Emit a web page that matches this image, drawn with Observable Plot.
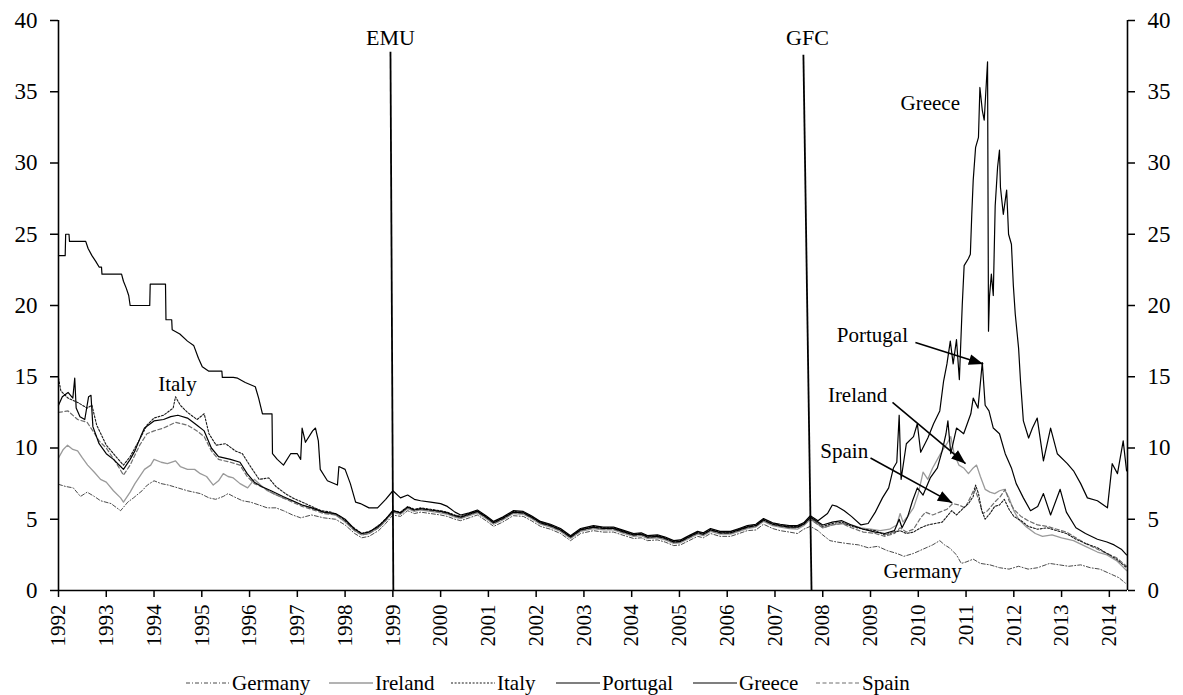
<!DOCTYPE html>
<html>
<head>
<meta charset="utf-8">
<script src="https://cdn.jsdelivr.net/npm/d3@7"></script>
<script src="https://cdn.jsdelivr.net/npm/@observablehq/plot@0.6"></script>
<style>
  html, body { margin: 0; padding: 0; background: #fff; }
  #wrap { position: relative; width: 1183px; height: 695px; overflow: hidden; font-family: "Liberation Serif", "Times New Roman", serif; }
  #chart svg, #chart svg text { font-family: "Liberation Serif", "Times New Roman", serif !important; }
  #legend { position: absolute; left: 0; top: 671px; width: 1183px; height: 24px; }
  .item { position: absolute; top: 0; height: 24px; display: flex; align-items: center; font-size: 21px; color: #000; white-space: nowrap; font-family: "Liberation Serif", "Times New Roman", serif; }
  .item svg { margin-right: 2px; }
</style>
</head>
<body>
<div id="wrap"><div id="chart"></div><div id="legend"></div></div>
<script>
// ---------------- data (decimal year, yield %) ----------------
const yearTicks = [1992,1993,1994,1995,1996,1997,1998,1999,2000,2001,2002,2003,2004,2005,2006,2007,2008,2009,2010,2011,2012,2013,2014];
const yTicks = [0,5,10,15,20,25,30,35,40];
const seriesNames = ["Germany","Ireland","Italy","Portugal","Greece","Spain"];

const germany = [[1992.00,7.45],[1992.15,7.3],[1992.31,7.2],[1992.46,6.6],[1992.6,6.9],[1992.75,6.6],[1992.88,6.3],[1993.1,6.1],[1993.3,5.6],[1993.45,6.2],[1993.57,6.5],[1993.75,7.0],[1993.86,7.4],[1994.0,7.7],[1994.15,7.5],[1994.3,7.4],[1994.5,7.2],[1994.7,7.0],[1994.97,6.8],[1995.15,6.5],[1995.29,6.4],[1995.45,6.6],[1995.55,6.8],[1995.66,6.6],[1995.85,6.3],[1996.02,6.2],[1996.2,6.0],[1996.37,5.8],[1996.55,5.8],[1996.71,5.6],[1996.9,5.3],[1997.07,5.1],[1997.3,5.3],[1997.55,5.1],[1997.8,5.0],[1998.0,4.6],[1998.2,4.0],[1998.35,3.7],[1998.5,3.8],[1998.7,4.2],[1998.85,4.7],[1999.0,5.3],
[1999.16,5.2],[1999.31,5.6],[1999.45,5.4],[1999.58,5.5],[1999.79,5.4],[2000.0,5.3],[2000.14,5.2],[2000.3,5.0],[2000.42,4.9],[2000.6,5.1],[2000.77,5.3],[2000.95,4.9],[2001.11,4.5],[2001.3,4.8],[2001.52,5.25],[2001.73,5.2],[2001.9,4.9],[2002.09,4.5],[2002.3,4.3],[2002.51,4.0],[2002.72,3.5],[2002.93,4.0],[2003.2,4.2],[2003.4,4.1],[2003.62,4.1],[2003.8,3.9],[2004.04,3.65],[2004.2,3.7],[2004.33,3.5],[2004.54,3.55],[2004.7,3.4],[2004.88,3.15],[2005.02,3.2],[2005.2,3.5],[2005.38,3.8],[2005.5,3.7],[2005.65,4.0],[2005.85,3.8],[2006.07,3.8],[2006.25,4.0],[2006.42,4.2],[2006.6,4.25],[2006.76,4.65],[2006.95,4.35],[2007.11,4.2],[2007.3,4.1],[2007.47,4.0],[2007.6,4.3],[2007.74,4.5],
[2007.9,4.2],[2008.0,3.9],[2008.15,3.5],[2008.3,3.4],[2008.5,3.3],[2008.75,3.2],[2008.95,3.0],[2009.15,3.1],[2009.35,2.8],[2009.55,2.6],[2009.7,2.4],[2009.9,2.6],[2010.1,2.9],[2010.3,3.2],[2010.45,3.5],[2010.55,3.2],[2010.65,3.0],[2010.8,2.5],[2010.9,1.9],[2011.0,2.0],[2011.15,2.2],[2011.3,1.9],[2011.5,1.8],[2011.7,1.6],[2011.9,1.5],[2012.1,1.7],[2012.3,1.5],[2012.5,1.6],[2012.75,1.9],[2012.95,1.8],[2013.15,1.7],[2013.4,1.8],[2013.6,1.6],[2013.8,1.5],[2014.0,1.2],[2014.2,0.9],[2014.36,0.45]];

const ireland = [[1992.0,9.3],[1992.1,9.9],[1992.19,10.2],[1992.3,9.9],[1992.4,9.8],[1992.5,9.3],[1992.61,8.8],[1992.75,8.3],[1992.88,7.8],[1993.0,7.6],[1993.15,7.0],[1993.3,6.5],[1993.36,6.2],[1993.5,6.9],[1993.6,7.5],[1993.8,8.5],[1993.93,8.8],[1994.0,9.2],[1994.15,9.0],[1994.28,8.9],[1994.45,9.1],[1994.55,8.7],[1994.7,8.5],[1994.85,8.5],[1994.97,8.2],[1995.1,8.0],[1995.24,7.4],[1995.35,7.7],[1995.45,8.2],[1995.55,8.0],[1995.66,7.9],[1995.8,7.5],[1995.96,7.2],[1996.1,7.8],[1996.23,7.4],[1996.37,7.0],[1996.5,6.8],[1996.7,6.5],[1996.9,6.3],[1997.1,6.0],[1997.3,5.8],[1997.55,5.5],[1997.8,5.3],[1998.0,4.8],[1998.2,4.2],[1998.35,3.9],[1998.5,4.0],[1998.7,4.4],[1998.85,4.9],[1999.0,5.5],
[1999.16,5.35],[1999.31,5.75],[1999.45,5.55],[1999.58,5.65],[1999.79,5.55],[2000.0,5.45],[2000.14,5.35],[2000.3,5.15],[2000.42,5.05],[2000.6,5.25],[2000.77,5.45],[2000.95,5.05],[2001.11,4.65],[2001.3,4.95],[2001.52,5.4],[2001.73,5.35],[2001.9,5.05],[2002.09,4.65],[2002.3,4.45],[2002.51,4.15],[2002.72,3.65],[2002.93,4.15],[2003.2,4.35],[2003.4,4.25],[2003.62,4.25],[2003.8,4.05],[2004.04,3.8],[2004.2,3.85],[2004.33,3.65],[2004.54,3.7],[2004.7,3.55],[2004.88,3.3],[2005.02,3.35],[2005.2,3.65],[2005.38,3.95],[2005.5,3.85],[2005.65,4.15],[2005.85,3.95],[2006.07,3.95],[2006.25,4.15],[2006.42,4.35],[2006.6,4.45],[2006.76,4.85],[2006.95,4.55],[2007.11,4.45],[2007.3,4.35],[2007.47,4.3],[2007.6,4.55],[2007.74,5.0],
[2008.0,4.4],[2008.2,4.6],[2008.4,4.7],[2008.6,4.6],[2008.8,4.4],[2009.0,4.3],[2009.2,4.2],[2009.4,4.3],[2009.55,4.6],[2009.62,5.4],[2009.68,4.8],[2009.8,5.3],[2009.9,5.8],[2010.0,6.8],[2010.1,8.3],[2010.2,7.8],[2010.3,8.6],[2010.4,9.2],[2010.5,9.8],[2010.6,10.3],[2010.68,10.8],[2010.75,9.6],[2010.85,8.8],[2010.95,8.6],[2011.05,8.2],[2011.15,8.6],[2011.22,8.8],[2011.3,8.0],[2011.4,7.1],[2011.5,6.9],[2011.6,6.8],[2011.7,7.0],[2011.8,7.1],[2011.9,6.5],[2012.0,5.6],[2012.1,5.0],[2012.25,4.5],[2012.45,4.0],[2012.6,3.8],[2012.8,3.9],[2013.0,3.7],[2013.25,3.5],[2013.5,3.1],[2013.75,2.7],[2013.95,2.5],[2014.15,2.1],[2014.36,1.4]];

const italy = [[1992.0,14.9],[1992.05,14.0],[1992.2,13.5],[1992.4,13.2],[1992.6,12.8],[1992.7,13.0],[1992.8,11.6],[1993.0,10.2],[1993.2,9.4],[1993.36,8.8],[1993.5,9.4],[1993.7,10.6],[1993.85,11.6],[1994.0,12.1],[1994.2,12.3],[1994.4,12.8],[1994.45,13.6],[1994.55,13.0],[1994.7,12.5],[1994.9,12.0],[1995.05,12.4],[1995.15,11.0],[1995.3,10.2],[1995.5,10.3],[1995.7,9.8],[1995.85,9.6],[1996.0,8.8],[1996.2,7.8],[1996.4,7.9],[1996.55,7.3],[1996.75,6.8],[1996.9,6.5],[1997.1,6.2],[1997.3,5.9],[1997.5,5.6],[1997.7,5.5],[1997.9,5.2],[1998.1,4.6],[1998.35,4.0],[1998.55,4.2],[1998.75,4.7],[1998.9,5.2],[1999.0,5.6],
[1999.16,5.5],[1999.31,5.9],[1999.45,5.7],[1999.58,5.8],[1999.79,5.7],[2000.0,5.6],[2000.14,5.5],[2000.3,5.3],[2000.42,5.2],[2000.6,5.4],[2000.77,5.6],[2000.95,5.2],[2001.11,4.8],[2001.3,5.1],[2001.52,5.55],[2001.73,5.5],[2001.9,5.2],[2002.09,4.8],[2002.3,4.6],[2002.51,4.3],[2002.72,3.8],[2002.93,4.3],[2003.2,4.5],[2003.4,4.4],[2003.62,4.4],[2003.8,4.2],[2004.04,3.95],[2004.2,4.0],[2004.33,3.8],[2004.54,3.85],[2004.7,3.7],[2004.88,3.45],[2005.02,3.5],[2005.2,3.8],[2005.38,4.1],[2005.5,4.0],[2005.65,4.3],[2005.85,4.1],[2006.07,4.1],[2006.25,4.3],[2006.42,4.5],[2006.6,4.6],[2006.76,5.0],[2006.95,4.7],[2007.11,4.6],[2007.3,4.5],[2007.47,4.5],[2007.6,4.7],[2007.74,5.1],
[2008.0,4.5],[2008.2,4.7],[2008.4,4.8],[2008.6,4.5],[2008.85,4.3],[2009.1,4.2],[2009.3,3.9],[2009.5,4.1],[2009.62,4.2],[2009.75,4.0],[2009.9,4.1],[2010.05,4.4],[2010.2,4.6],[2010.35,4.7],[2010.5,4.8],[2010.6,5.2],[2010.7,5.6],[2010.8,5.3],[2010.95,5.8],[2011.05,6.1],[2011.15,6.6],[2011.2,7.4],[2011.26,6.8],[2011.33,5.6],[2011.4,5.0],[2011.5,5.4],[2011.6,5.9],[2011.7,6.0],[2011.8,6.4],[2011.9,5.7],[2012.0,5.2],[2012.15,4.9],[2012.3,4.5],[2012.5,4.3],[2012.7,4.4],[2012.9,4.2],[2013.1,4.0],[2013.3,3.6],[2013.5,3.3],[2013.75,3.0],[2013.95,2.6],[2014.15,2.2],[2014.36,1.6]];

const portugal = [[1992.0,13.0],[1992.08,13.6],[1992.2,13.9],[1992.3,13.5],[1992.34,14.9],[1992.37,12.8],[1992.45,12.2],[1992.55,12.0],[1992.63,13.6],[1992.68,13.7],[1992.72,11.5],[1992.85,10.3],[1993.0,9.6],[1993.15,9.2],[1993.3,8.7],[1993.36,8.5],[1993.5,9.2],[1993.6,9.8],[1993.72,10.8],[1993.8,11.4],[1994.0,11.9],[1994.2,12.0],[1994.35,12.2],[1994.5,12.3],[1994.7,12.1],[1994.9,11.6],[1995.05,11.2],[1995.2,10.0],[1995.35,9.4],[1995.6,9.2],[1995.8,9.0],[1995.95,8.2],[1996.1,7.6],[1996.25,7.3],[1996.45,7.0],[1996.7,6.6],[1996.9,6.3],[1997.1,6.0],[1997.3,5.8],[1997.55,5.5],[1997.8,5.4],[1998.0,5.0],[1998.2,4.3],[1998.35,4.0],[1998.5,4.1],[1998.7,4.5],[1998.85,5.0],[1999.0,5.6],
[1999.16,5.45],[1999.31,5.85],[1999.45,5.65],[1999.58,5.75],[1999.79,5.65],[2000.0,5.55],[2000.14,5.45],[2000.3,5.25],[2000.42,5.15],[2000.6,5.35],[2000.77,5.55],[2000.95,5.15],[2001.11,4.75],[2001.3,5.05],[2001.52,5.5],[2001.73,5.45],[2001.9,5.15],[2002.09,4.75],[2002.3,4.55],[2002.51,4.25],[2002.72,3.75],[2002.93,4.25],[2003.2,4.45],[2003.4,4.35],[2003.62,4.35],[2003.8,4.15],[2004.04,3.9],[2004.2,3.95],[2004.33,3.75],[2004.54,3.8],[2004.7,3.65],[2004.88,3.4],[2005.02,3.45],[2005.2,3.75],[2005.38,4.05],[2005.5,3.95],[2005.65,4.25],[2005.85,4.05],[2006.07,4.05],[2006.25,4.25],[2006.42,4.45],[2006.6,4.55],[2006.76,4.95],[2006.95,4.65],[2007.11,4.55],[2007.3,4.45],[2007.47,4.45],[2007.6,4.65],[2007.74,5.15],
[2008.0,4.6],[2008.2,4.8],[2008.4,4.9],[2008.6,4.6],[2008.85,4.3],[2009.1,4.1],[2009.3,4.0],[2009.5,4.2],[2009.6,5.0],[2009.66,4.4],[2009.78,5.2],[2009.88,6.3],[2009.98,7.2],[2010.1,6.7],[2010.25,7.9],[2010.4,8.6],[2010.5,9.8],[2010.58,11.0],[2010.62,11.9],[2010.68,9.6],[2010.8,11.4],[2010.95,11.0],[2011.1,12.4],[2011.15,13.5],[2011.25,12.8],[2011.34,16.0],[2011.4,13.0],[2011.48,12.6],[2011.57,11.4],[2011.7,11.0],[2011.82,9.6],[2011.95,8.6],[2012.05,7.5],[2012.2,6.5],[2012.35,5.6],[2012.5,5.9],[2012.62,6.8],[2012.77,5.3],[2012.97,7.1],[2013.1,5.5],[2013.3,4.4],[2013.5,4.0],[2013.75,3.6],[2013.95,3.4],[2014.1,3.2],[2014.25,2.9],[2014.36,2.5]];

const greece = [[1992.0,23.5],[1992.14,23.5],[1992.15,25.0],[1992.22,25.0],[1992.23,24.5],[1992.57,24.5],[1992.62,24.0],[1992.7,23.5],[1992.78,23.1],[1992.85,22.7],[1992.9,22.7],[1992.91,22.2],[1993.32,22.2],[1993.36,21.7],[1993.42,21.2],[1993.47,20.7],[1993.5,20.0],[1993.91,20.0],[1993.92,21.5],[1994.24,21.5],[1994.25,19.0],[1994.37,19.0],[1994.38,18.3],[1994.54,18.0],[1994.7,17.5],[1994.83,17.2],[1994.93,16.3],[1995.01,15.7],[1995.14,15.4],[1995.42,15.4],[1995.43,14.95],[1995.66,14.95],[1995.75,14.9],[1995.91,14.6],[1996.12,14.3],[1996.19,13.5],[1996.27,12.4],[1996.47,12.4],[1996.48,9.6],[1996.58,9.2],[1996.71,8.8],[1996.86,9.6],[1997.0,9.6],[1997.07,9.2],[1997.1,11.4],[1997.17,10.4],[1997.32,11.2],[1997.38,11.4],[1997.44,10.5],[1997.48,8.5],[1997.63,7.7],[1997.84,7.4],[1997.87,8.7],[1998.0,8.5],[1998.11,7.5],[1998.22,6.2],[1998.32,6.1],[1998.5,5.8],[1998.68,5.8],[1998.85,6.4],[1999.0,7.0],
[1999.16,6.5],[1999.31,6.7],[1999.45,6.4],[1999.58,6.3],[1999.79,6.2],[2000.0,6.1],[2000.14,5.9],[2000.3,5.5],[2000.42,5.3],[2000.6,5.45],[2000.77,5.65],[2000.95,5.25],[2001.11,4.85],[2001.3,5.15],[2001.52,5.6],[2001.73,5.55],[2001.9,5.25],[2002.09,4.85],[2002.3,4.65],[2002.51,4.35],[2002.72,3.85],[2002.93,4.35],[2003.2,4.55],[2003.4,4.45],[2003.62,4.45],[2003.8,4.25],[2004.04,4.0],[2004.2,4.05],[2004.33,3.85],[2004.54,3.9],[2004.7,3.75],[2004.88,3.5],[2005.02,3.55],[2005.2,3.85],[2005.38,4.15],[2005.5,4.05],[2005.65,4.35],[2005.85,4.15],[2006.07,4.15],[2006.25,4.35],[2006.42,4.55],[2006.6,4.65],[2006.76,5.05],[2006.95,4.75],[2007.11,4.65],[2007.3,4.55],[2007.47,4.55],[2007.6,4.75],[2007.74,5.25],
[2007.9,4.9],[2008.1,5.4],[2008.2,6.0],[2008.3,5.9],[2008.45,5.6],[2008.6,5.2],[2008.8,4.6],[2008.95,4.7],[2009.1,5.5],[2009.25,6.5],[2009.38,7.2],[2009.48,8.6],[2009.55,9.0],[2009.6,12.3],[2009.64,7.8],[2009.75,10.3],[2009.9,10.8],[2009.98,11.7],[2010.05,9.7],[2010.2,10.7],[2010.32,11.7],[2010.45,12.6],[2010.53,14.7],[2010.6,15.9],[2010.67,17.5],[2010.73,15.9],[2010.8,17.6],[2010.86,14.8],[2010.92,20.0],[2010.96,22.8],[2011.05,23.3],[2011.09,23.6],[2011.12,26.4],[2011.15,28.8],[2011.2,31.1],[2011.26,31.8],[2011.29,35.3],[2011.34,33.7],[2011.38,33.0],[2011.45,37.1],[2011.47,18.2],[2011.49,20.6],[2011.53,22.2],[2011.57,20.7],[2011.61,27.0],[2011.66,29.7],[2011.7,30.9],[2011.72,28.3],[2011.78,26.4],[2011.85,28.1],[2011.89,25.0],[2011.95,24.3],[2011.99,21.4],[2012.03,19.4],[2012.1,17.0],[2012.14,14.7],[2012.2,11.9],[2012.31,10.7],[2012.39,11.4],[2012.49,12.1],[2012.62,9.1],[2012.77,11.4],[2012.91,9.6],[2013.12,8.9],[2013.25,8.4],[2013.4,7.5],[2013.54,6.5],[2013.75,6.3],[2013.96,5.8],[2014.06,8.9],[2014.17,8.2],[2014.29,10.5],[2014.36,8.4]];

const spain = [[1992.0,12.5],[1992.2,12.6],[1992.4,12.0],[1992.6,11.8],[1992.72,11.2],[1992.85,10.5],[1993.0,10.0],[1993.2,9.0],[1993.36,8.1],[1993.5,8.8],[1993.7,10.2],[1993.85,11.0],[1994.0,11.2],[1994.2,11.4],[1994.45,11.8],[1994.7,11.6],[1994.9,11.2],[1995.05,10.8],[1995.2,9.8],[1995.35,9.2],[1995.6,9.0],[1995.8,8.8],[1995.95,8.0],[1996.1,7.5],[1996.3,7.2],[1996.5,6.8],[1996.7,6.5],[1996.9,6.2],[1997.1,5.9],[1997.3,5.7],[1997.55,5.4],[1997.8,5.3],[1998.0,4.9],[1998.2,4.2],[1998.35,3.9],[1998.5,4.0],[1998.7,4.4],[1998.85,4.9],[1999.0,5.5],
[1999.16,5.4],[1999.31,5.8],[1999.45,5.6],[1999.58,5.7],[1999.79,5.6],[2000.0,5.5],[2000.14,5.4],[2000.3,5.2],[2000.42,5.1],[2000.6,5.3],[2000.77,5.5],[2000.95,5.1],[2001.11,4.7],[2001.3,5.0],[2001.52,5.45],[2001.73,5.4],[2001.9,5.1],[2002.09,4.7],[2002.3,4.5],[2002.51,4.2],[2002.72,3.7],[2002.93,4.2],[2003.2,4.4],[2003.4,4.3],[2003.62,4.3],[2003.8,4.1],[2004.04,3.85],[2004.2,3.9],[2004.33,3.7],[2004.54,3.75],[2004.7,3.6],[2004.88,3.35],[2005.02,3.4],[2005.2,3.7],[2005.38,4.0],[2005.5,3.9],[2005.65,4.2],[2005.85,4.0],[2006.07,4.0],[2006.25,4.2],[2006.42,4.4],[2006.6,4.5],[2006.76,4.9],[2006.95,4.6],[2007.11,4.5],[2007.3,4.4],[2007.47,4.4],[2007.6,4.6],[2007.74,5.0],
[2008.0,4.4],[2008.2,4.6],[2008.4,4.7],[2008.6,4.4],[2008.85,4.1],[2009.1,4.0],[2009.3,3.8],[2009.5,4.0],[2009.62,4.4],[2009.75,4.1],[2009.9,4.3],[2010.05,5.1],[2010.15,5.5],[2010.3,5.3],[2010.45,5.5],[2010.6,5.7],[2010.72,6.1],[2010.85,6.0],[2010.98,5.8],[2011.1,6.6],[2011.18,7.2],[2011.26,6.4],[2011.35,5.4],[2011.45,5.6],[2011.6,6.2],[2011.72,6.6],[2011.82,7.1],[2011.9,6.3],[2012.0,5.7],[2012.15,5.2],[2012.3,4.9],[2012.5,4.6],[2012.7,4.5],[2012.9,4.3],[2013.1,4.1],[2013.3,3.7],[2013.5,3.3],[2013.75,2.9],[2013.95,2.6],[2014.15,2.3],[2014.36,1.7]];

// event lines (EMU, GFC) and labels
const events = [
  {name: "EMU", x1: 1998.95, y1: 37.8, x2: 1999.01, y2: 0, lx: 1998.95, ly: 38.8},
  {name: "GFC", x1: 2007.595, y1: 37.6, x2: 2007.765, y2: 0, lx: 2007.68, ly: 38.8}
];
const labels = [
  {text: "Italy", x: 1994.49, y: 14.5},
  {text: "Greece", x: 2010.25, y: 34.2},
  {text: "Portugal", x: 2009.04, y: 17.9},
  {text: "Ireland", x: 2008.73, y: 13.7},
  {text: "Spain", x: 2008.45, y: 9.75},
  {text: "Germany", x: 2010.09, y: 1.37}
];
const arrows = [
  {x1: 2009.94, y1: 17.4, x2: 2011.36, y2: 15.9},
  {x1: 2009.46, y1: 13.2, x2: 2010.99, y2: 8.9},
  {x1: 2009.0, y1: 9.3, x2: 2010.71, y2: 6.15}
];

// ---------------- styles ----------------
const styles = {
  Germany:  {stroke: "#4a4a4a", strokeWidth: 1, dash: "4,2,1,2"},
  Ireland:  {stroke: "#9a9a9a", strokeWidth: 1.3, dash: null},
  Italy:    {stroke: "#1a1a1a", strokeWidth: 1.1, dash: "2,1.6"},
  Portugal: {stroke: "#000000", strokeWidth: 1.2, dash: null},
  Greece:   {stroke: "#000000", strokeWidth: 1.2, dash: null},
  Spain:    {stroke: "#6e6e6e", strokeWidth: 1.2, dash: "4,2.5"}
};
const seriesData = {Germany: germany, Ireland: ireland, Italy: italy, Portugal: portugal, Greece: greece, Spain: spain};
const drawOrder = ["Germany", "Ireland", "Spain", "Italy", "Portugal", "Greece"];

function filledArrow(color, context) {
  const doc = (context && context.document) || document;
  const ns = "http://www.w3.org/2000/svg";
  const m = doc.createElementNS(ns, "marker");
  m.setAttribute("viewBox", "-12 -5 12 10");
  m.setAttribute("markerUnits", "userSpaceOnUse");
  m.setAttribute("markerWidth", "15");
  m.setAttribute("markerHeight", "12");
  m.setAttribute("refX", "0");
  m.setAttribute("refY", "0");
  m.setAttribute("orient", "auto");
  const p = doc.createElementNS(ns, "path");
  p.setAttribute("d", "M-12,-4.5L0,0L-12,4.5Z");
  p.setAttribute("fill", "black");
  p.setAttribute("stroke", "none");
  m.appendChild(p);
  return m;
}

const font = "'Liberation Serif','Times New Roman',serif";
const lineMarks = drawOrder.map(name => Plot.line(seriesData[name], {
  x: d => d[0], y: d => d[1],
  stroke: styles[name].stroke, strokeWidth: styles[name].strokeWidth,
  strokeDasharray: styles[name].dash || undefined, curve: "linear"
}));

const chart = Plot.plot({
  width: 1183, height: 656,
  marginLeft: 58, marginRight: 56, marginTop: 20, marginBottom: 66,
  x: {domain: [1992, 2014.38]},
  y: {domain: [0, 40]},
  style: {fontFamily: font, background: "white", color: "black", overflow: "visible"},
  marks: [
    Plot.axisY({anchor: "left", ticks: yTicks, tickSize: 8, tickPadding: 13, fontSize: 23, strokeWidth: 1.5, label: null, tickFormat: d => String(d)}),
    Plot.axisY({anchor: "right", ticks: yTicks, tickSize: 7, tickPadding: 13, fontSize: 23, strokeWidth: 1.5, label: null, tickFormat: d => String(d)}),
    Plot.axisX({ticks: yearTicks, tickFormat: d => String(d), tickRotate: -90, tickSize: 7, tickPadding: 7, fontSize: 21, strokeWidth: 1.5, label: null}),
    ...lineMarks,
    Plot.ruleX([1992, 2014.38], {y1: 0, y2: 40, stroke: "black", strokeWidth: 1.6}),
    Plot.ruleY([0], {stroke: "black", strokeWidth: 1.6}),
    Plot.link(events, {x1: "x1", y1: "y1", x2: "x2", y2: "y2", stroke: "black", strokeWidth: 1.8}),
    Plot.text(events, {x: "lx", y: "ly", text: "name", fontSize: 22, fill: "black"}),
    Plot.text(labels, {x: "x", y: "y", text: "text", fontSize: 21, fill: "black"}),
    Plot.link(arrows, {x1: "x1", y1: "y1", x2: "x2", y2: "y2", stroke: "black", strokeWidth: 1.6, markerEnd: filledArrow})
  ]
});
document.getElementById("chart").appendChild(chart);

// ---------------- legend ----------------
const legendPos = {Germany: 186, Ireland: 329, Italy: 451, Portugal: 556, Greece: 693, Spain: 816};
const legend = document.getElementById("legend");
for (const name of seriesNames) {
  const s = styles[name];
  const div = document.createElement("div");
  div.className = "item";
  div.style.left = legendPos[name] + "px";
  div.innerHTML = `<svg width="44" height="10"><line x1="0" y1="5" x2="44" y2="5" stroke="${s.stroke}" stroke-width="${s.strokeWidth}" ${s.dash ? `stroke-dasharray="${s.dash}"` : ""}/></svg><span>${name}</span>`;
  legend.appendChild(div);
}
</script>
</body>
</html>
